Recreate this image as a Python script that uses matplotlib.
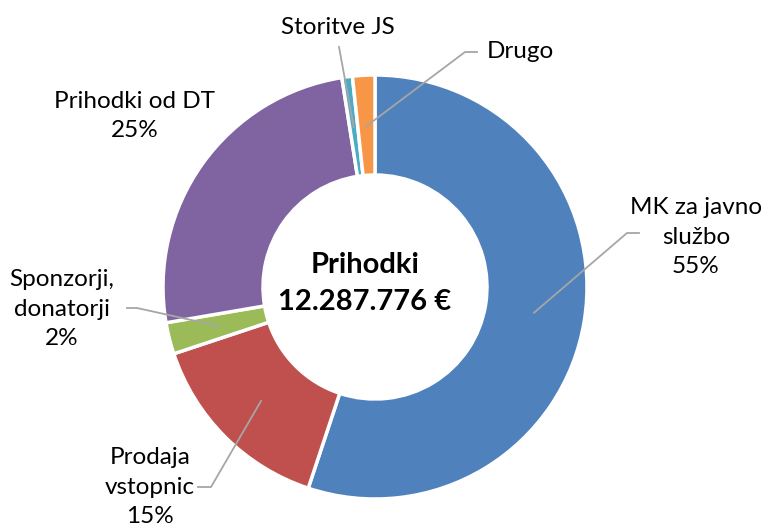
import numpy as np
from matplotlib import pyplot as plt

labels = ['MK za javno\nslužbo', 'Prodaja\nvstopnic', 'Sponzorji,\ndonatorji',
          'Prihodki od DT', 'Storitve JS', 'Drugo']
values = [55.1, 14.8, 2.4, 25.2, 0.8, 1.7]
pct_text = ['55%', '15%', '2%', '25%', '', '']
colors = ['#4F81BD', '#C0504D', '#9BBB59', '#8064A2', '#4BACC6', '#F79646']
center_title = 'Prihodki'
center_total = '12.287.776 €'

W, H = 782, 530
cx, cy, R = 375, 287, 212


def px(x, y):
    # pixel position -> data coords (pie radius = 1)
    return (x - cx) / R, (cy - y) / R


plt.rcParams['font.family'] = ['Lato', 'DejaVu Sans']
fig = plt.figure(figsize=(W / 100, H / 100), dpi=100)
ax = fig.add_axes([0, 0, 1, 1])

wedges, _ = ax.pie(values, colors=colors, startangle=90, counterclock=False,
                   radius=1.0, wedgeprops=dict(width=1 - 112 / R, edgecolor='white', linewidth=2.5))

# pie() resets limits, so set them afterwards
ax.set_xlim(-cx / R, (W - cx) / R)
ax.set_ylim(-(H - cy) / R, cy / R)
ax.set_aspect('equal')
ax.axis('off')

# label placements (pixel coords of text centre, leader elbow start / end)
text_pos = [(696, 237), (150, 487), (62, 309), (135, 116), (338, 27), (520, 52)]
elbows = [((639, 233), (627, 233)), ((198, 487), (211, 487)), ((127, 308), (137, 308)),
          None, ((339, 47), (339, 47)), ((477, 52), (465, 52))]

for i, w in enumerate(wedges):
    txt = labels[i] + ('\n' + pct_text[i] if pct_text[i] else '')
    tx, ty = px(*text_pos[i])
    ax.text(tx, ty, txt, ha='center', va='center', fontsize=17.5, linespacing=1.5, color='black')
    if elbows[i] is None:
        continue
    mid = np.deg2rad((w.theta1 + w.theta2) / 2)
    r_end = 0.76
    ex, ey = r_end * np.cos(mid), r_end * np.sin(mid)
    (ax0, ay0), (ax1, ay1) = px(*elbows[i][0]), px(*elbows[i][1])
    ax.plot([ax0, ax1, ex], [ay0, ay1, ey], color='#A6A6A6', lw=1.3, zorder=5)

ax.text(*px(365, 265), center_title, ha='center', va='center', fontsize=21, fontweight='bold')
ax.text(*px(365, 302), center_total, ha='center', va='center', fontsize=21, fontweight='bold')

plt.savefig('out.png', dpi=100)
